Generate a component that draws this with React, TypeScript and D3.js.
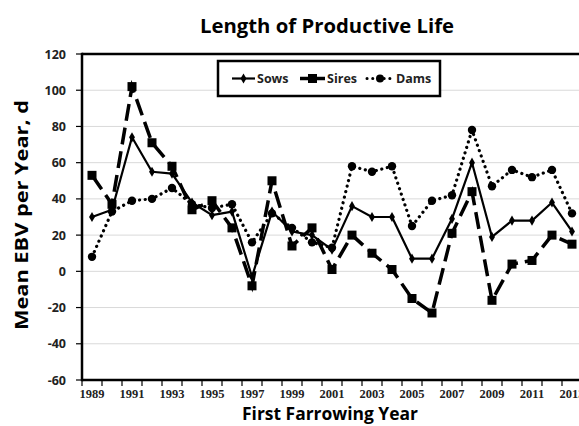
import React, { useEffect, useRef } from 'react';
import * as d3 from 'd3';

// values (mean EBV per year, days)
const years = [
    '1989', '1990', '1991', '1992', '1993', '1994', '1995', '1996', '1997', '1998',
    '1999', '2000', '2001', '2002', '2003', '2004', '2005', '2006', '2007', '2008',
    '2009', '2010', '2011', '2012', '2013',
];
const sows = [30, 34, 74, 55, 54, 38, 31, 33, -3, 33, 22, 20, 12, 36, 30, 30, 7, 7, 29, 60, 19, 28, 28, 38, 22];
const sires = [53, 37, 102, 71, 58, 34, 39, 24, -8, 50, 14, 24, 1, 20, 10, 1, -15, -23, 21, 44, -16, 4, 6, 20, 15];
const dams = [8, 33, 39, 40, 46, 37, 35, 37, 16, 32, 24, 16, 13, 58, 55, 58, 25, 39, 42, 78, 47, 56, 52, 56, 32];
const yTicks = [-60, -40, -20, 0, 20, 40, 60, 80, 100, 120];

const W = 579;
const H = 426;
const margin = { top: 54, left: 82, bottom: 380 };
const plotRight = 582; // the chart runs a little past the right edge of the picture

function App() {
    const ref = useRef<SVGSVGElement | null>(null);

    useEffect(() => {
        drawChart();
    }, []);

    function drawChart() {
        const svg = d3.select(ref.current);
        svg.selectAll('*').remove();

        const xScale = d3.scaleBand<string>().domain(years).range([margin.left, plotRight]);
        const yScale = d3.scaleLinear().domain([-60, 120]).range([margin.bottom, margin.top]);
        const cx = (i: number) => (xScale(years[i]) as number) + xScale.bandwidth() / 2;

        const sans = "'Open Sans', 'Liberation Sans', sans-serif";

        // gridlines
        svg.append('g')
            .selectAll('line')
            .data(yTicks.filter(t => t > -60 && t < 120))
            .enter().append('line')
            .attr('x1', margin.left).attr('x2', plotRight)
            .attr('y1', d => yScale(d)).attr('y2', d => yScale(d))
            .attr('stroke', '#d9d9d9').attr('stroke-width', 1);

        // axes frame
        const frame = svg.append('g').attr('stroke', '#000').attr('stroke-width', 2.5);
        frame.append('line').attr('x1', margin.left).attr('x2', plotRight)
            .attr('y1', margin.top).attr('y2', margin.top);
        frame.append('line').attr('x1', margin.left).attr('x2', plotRight)
            .attr('y1', margin.bottom).attr('y2', margin.bottom);
        frame.append('line').attr('x1', margin.left).attr('x2', margin.left)
            .attr('y1', margin.top - 1.2).attr('y2', margin.bottom + 1.2);

        // y axis ticks and labels
        svg.append('g')
            .selectAll('line')
            .data(yTicks)
            .enter().append('line')
            .attr('x1', margin.left - 6).attr('x2', margin.left)
            .attr('y1', d => yScale(d)).attr('y2', d => yScale(d))
            .attr('stroke', '#000').attr('stroke-width', 1.2);
        svg.append('g')
            .selectAll('text')
            .data(yTicks)
            .enter().append('text')
            .attr('x', 66)
            .attr('y', d => yScale(d) + 4.5)
            .attr('text-anchor', 'end')
            .attr('font-family', sans)
            .attr('font-weight', 'bold')
            .attr('font-size', 12.5)
            .attr('fill', '#222')
            .text(d => String(d));

        // x axis ticks (between categories) and labels (every other year)
        svg.append('g')
            .selectAll('line')
            .data(d3.range(years.length + 1))
            .enter().append('line')
            .attr('x1', i => margin.left + i * xScale.step())
            .attr('x2', i => margin.left + i * xScale.step())
            .attr('y1', margin.bottom).attr('y2', margin.bottom + 6)
            .attr('stroke', '#000').attr('stroke-width', 1.2);
        svg.append('g')
            .selectAll('text')
            .data(years.filter((y, i) => i % 2 === 0))
            .enter().append('text')
            .attr('x', d => (xScale(d) as number) + xScale.bandwidth() / 2)
            .attr('y', 398)
            .attr('text-anchor', 'middle')
            .attr('font-family', "'Liberation Serif', serif")
            .attr('font-weight', 'bold')
            .attr('font-size', 12.5)
            .attr('fill', '#222')
            .text(d => d);

        // titles
        svg.append('text')
            .attr('x', 327).attr('y', 33)
            .attr('text-anchor', 'middle')
            .attr('font-family', sans).attr('font-weight', 'bold').attr('font-size', 19)
            .attr('textLength', 254).attr('lengthAdjust', 'spacingAndGlyphs')
            .text('Length of Productive Life');
        svg.append('text')
            .attr('x', 330).attr('y', 420)
            .attr('text-anchor', 'middle')
            .attr('font-family', sans).attr('font-weight', 'bold').attr('font-size', 18)
            .attr('textLength', 176).attr('lengthAdjust', 'spacingAndGlyphs')
            .text('First Farrowing Year');
        svg.append('text')
            .attr('transform', 'translate(28,215) rotate(-90)')
            .attr('text-anchor', 'middle')
            .attr('font-family', sans).attr('font-weight', 'bold').attr('font-size', 18)
            .attr('textLength', 230).attr('lengthAdjust', 'spacingAndGlyphs')
            .text('Mean EBV per Year, d');

        // series lines
        const line = d3.line<number>()
            .x((v, i) => cx(i))
            .y(v => yScale(v));

        svg.append('path').datum(dams).attr('d', line)
            .attr('fill', 'none').attr('stroke', '#000').attr('stroke-width', 3.2)
            .attr('stroke-linecap', 'round').attr('stroke-dasharray', '0.1 5.6');
        svg.append('path').datum(sires).attr('d', line)
            .attr('fill', 'none').attr('stroke', '#000').attr('stroke-width', 3.5)
            .attr('stroke-dasharray', '17 7');
        svg.append('path').datum(sows).attr('d', line)
            .attr('fill', 'none').attr('stroke', '#000').attr('stroke-width', 2.2)
            .attr('stroke-linejoin', 'round');

        // markers
        svg.append('g').selectAll('circle')
            .data(dams).enter().append('circle')
            .attr('cx', (v, i) => cx(i)).attr('cy', v => yScale(v))
            .attr('r', 4.2).attr('fill', '#000');
        svg.append('g').selectAll('rect')
            .data(sires).enter().append('rect')
            .attr('x', (v, i) => cx(i) - 4.5).attr('y', v => yScale(v) - 4.5)
            .attr('width', 9).attr('height', 9).attr('fill', '#000');
        const diamond = d3.symbol().type(d3.symbolDiamond).size(30);
        svg.append('g').selectAll('path')
            .data(sows).enter().append('path')
            .attr('d', diamond)
            .attr('transform', (v, i) => `translate(${cx(i)},${yScale(v)})`)
            .attr('fill', '#000');

        // legend
        const lg = svg.append('g');
        lg.append('rect').attr('x', 218).attr('y', 61).attr('width', 222).attr('height', 35)
            .attr('fill', '#fff').attr('stroke', '#000').attr('stroke-width', 2.5);
        const ly = 78.5;
        const items = [
            { name: 'Sows', x1: 232, x2: 255, tx: 257 },
            { name: 'Sires', x1: 300, x2: 325, tx: 327 },
            { name: 'Dams', x1: 367, x2: 393, tx: 396 },
        ];
        items.forEach(it => {
            const mid = (it.x1 + it.x2) / 2;
            if (it.name === 'Dams') {
                lg.append('line').attr('x1', it.x1).attr('x2', it.x2).attr('y1', ly).attr('y2', ly)
                    .attr('stroke', '#000').attr('stroke-width', 3).attr('stroke-linecap', 'round')
                    .attr('stroke-dasharray', '0.1 5.6');
                lg.append('circle').attr('cx', mid).attr('cy', ly).attr('r', 4).attr('fill', '#000');
            } else if (it.name === 'Sires') {
                lg.append('line').attr('x1', it.x1).attr('x2', it.x2).attr('y1', ly).attr('y2', ly)
                    .attr('stroke', '#000').attr('stroke-width', 3.5);
                lg.append('rect').attr('x', mid - 4.5).attr('y', ly - 4.5).attr('width', 9).attr('height', 9)
                    .attr('fill', '#000');
            } else {
                lg.append('line').attr('x1', it.x1).attr('x2', it.x2).attr('y1', ly).attr('y2', ly)
                    .attr('stroke', '#000').attr('stroke-width', 2.2);
                lg.append('path').attr('d', diamond).attr('transform', `translate(${mid},${ly})`)
                    .attr('fill', '#000');
            }
            lg.append('text').attr('x', it.tx).attr('y', ly + 4.5)
                .attr('font-family', sans).attr('font-weight', 'bold').attr('font-size', 12.5)
                .attr('fill', '#222')
                .text(it.name);
        });
    }

    return (
        <svg
            ref={ref}
            width={W}
            height={H}
            style={{ position: 'absolute', left: 0, top: 0, background: '#fff' }}
        />
    );
}

export default App;
